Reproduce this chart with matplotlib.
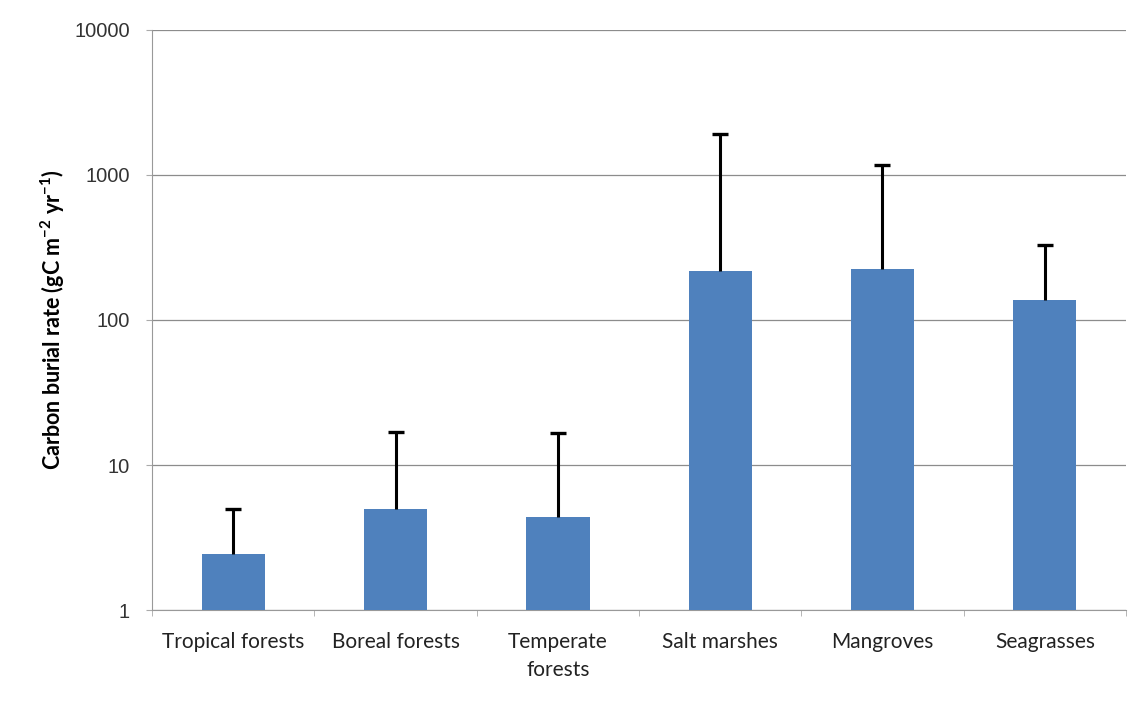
import matplotlib
matplotlib.use("Agg")
import matplotlib.pyplot as plt
import numpy as np

# Ecosystem categories and carbon burial rates (gC m-2 yr-1)
categories = ["Tropical forests", "Boreal forests", "Temperate\nforests",
              "Salt marshes", "Mangroves", "Seagrasses"]
mean_rate = [2.45, 4.95, 4.35, 218, 226, 138]
max_rate = [4.95, 16.8, 16.5, 1910, 1170, 330]
y_ticks = [1, 10, 100, 1000, 10000]
y_tick_labels = ["1", "10", "100", "1000", "10000"]

plt.rcParams["font.family"] = ["Lato", "DejaVu Sans"]
plt.rcParams["mathtext.default"] = "regular"

fig = plt.figure(figsize=(11.35, 7.07), dpi=100)
ax = fig.add_axes([0.134, 0.137, 0.858, 0.821])

x = np.arange(len(categories))
upper = np.array(max_rate) - np.array(mean_rate)
ax.bar(x, mean_rate, width=0.39, color="#4f81bd", zorder=3)
# whisker from the bar top up to the maximum, capped only at the top
ax.errorbar(x, mean_rate, yerr=[np.zeros_like(upper), upper], fmt="none",
            ecolor="black", elinewidth=2.2, capsize=0, zorder=4)
ax.plot(x, max_rate, linestyle="none", marker="_", markersize=12,
        markeredgewidth=2.4, color="black", zorder=4)

ax.set_yscale("log")
ax.set_ylim(1, 10000)
ax.set_xlim(-0.5, len(categories) - 0.5)
ax.set_yticks(y_ticks)
ax.set_yticklabels(y_tick_labels, fontsize=14.5, color="#333333",
                   family=["Liberation Sans", "DejaVu Sans"])
ax.yaxis.set_minor_locator(matplotlib.ticker.NullLocator())
ax.set_xticks(x)
ax.set_xticklabels(categories, fontsize=15, color="#222222", linespacing=1.45)
ax.set_xticks(np.arange(-0.5, len(categories)), minor=True)
ax.tick_params(axis="x", which="major", length=0, pad=16)
ax.tick_params(axis="x", which="minor", length=4, color="#aaaaaa", direction="out")
ax.tick_params(axis="y", which="major", length=4, color="#aaaaaa", pad=12)

ax.grid(axis="y", color="#8c8c8c", linewidth=0.9, zorder=0)
for side in ["top", "right"]:
    ax.spines[side].set_visible(False)
ax.spines["left"].set_color("#999999")
ax.spines["bottom"].set_color("#999999")

ax.set_ylabel("Carbon burial rate (gC m$^{-2}$ yr$^{-1}$)", fontsize=15.5,
              fontweight="bold", labelpad=5)

fig.savefig("out.png", dpi=100, facecolor="white")
